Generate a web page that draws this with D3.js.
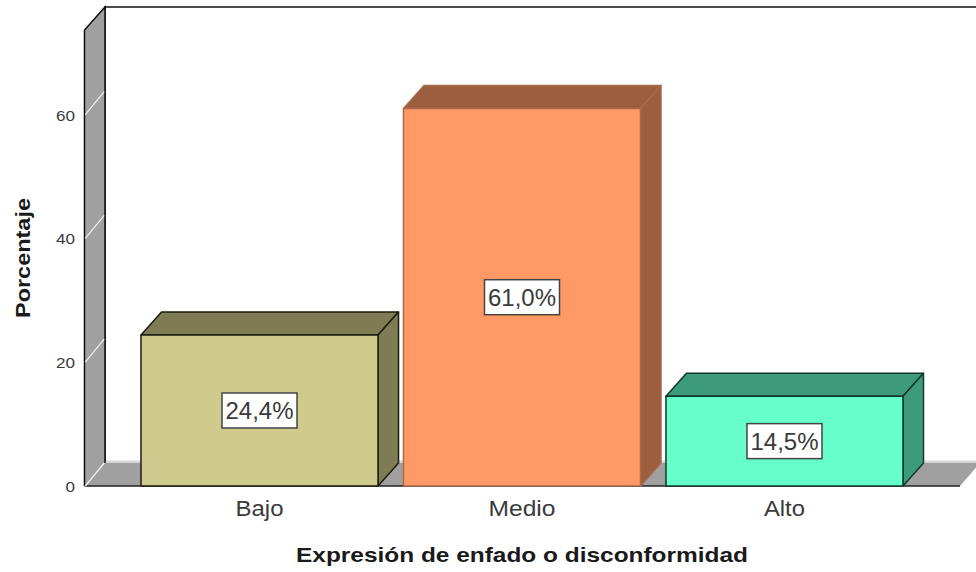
<!DOCTYPE html>
<html><head><meta charset="utf-8">
<script src="https://cdn.jsdelivr.net/npm/d3@7"></script>
<style>html,body{margin:0;padding:0;background:#fff}svg{display:block}text{font-family:"Liberation Sans",Arial,sans-serif;fill:#3a3a3a}text.b{fill:#1a1a1a}</style>
</head><body><svg id="c" width="976" height="572"></svg>
<script>
const categories=["Bajo","Medio","Alto"];
const values=[24.4,61.0,14.5];
const valueLabels=["24,4%","61,0%","14,5%"];
const yTicks=[0,20,40,60];
const faceColors=["#cfcb8d","#ff9966","#66ffcc"];
const sideColors=["#7f7c55","#9b5f3f","#3e9b7c"];
const edgeColors=["#1c1c10","#a8694a","#10382c"];
const xTitle="Expresión de enfado o disconformidad";
const yTitle="Porcentaje";

const dx=20.5,dy=-23,baseY=486,wallX=84.5,yMax=73.67;
const y=d3.scaleLinear().domain([0,yMax]).range([baseY,30]);
const x=d3.scaleBand().domain(categories).range([128.25,915.75]).paddingInner(.097).paddingOuter(.0486);
const svg=d3.select("#c");
const defs=svg.append("defs");
defs.append("filter").attr("id","soft").attr("filterUnits","userSpaceOnUse").attr("x",0).attr("y",0).attr("width",976).attr("height",572)
  .append("feGaussianBlur").attr("stdDeviation",.35);
const g=svg.append("g").attr("filter","url(#soft)");
const poly=(pts,fill,stroke,sw=1.5)=>g.append("polygon").attr("points",pts.map(p=>p.join(",")).join(" "))
  .attr("fill",fill).attr("stroke",stroke).attr("stroke-width",sw).attr("stroke-linejoin","round");
// back plane border
g.append("path").attr("d",`M${wallX+dx},${y(0)+dy}V${y(yMax)+dy}H976`).attr("fill","none").attr("stroke","#111").attr("stroke-width",1.5);
// floor
g.append("rect").attr("x",wallX+dx).attr("y",y(0)+dy-2.5).attr("width",976-wallX-dx).attr("height",3).attr("fill","#d6d6d6");
g.append("polygon").attr("points",[[wallX,baseY],[wallX+dx,baseY+dy],[980,baseY+dy],[960,baseY]].map(p=>p.join(",")).join(" ")).attr("fill","#a0a0a0");
g.append("line").attr("x1",wallX).attr("x2",960).attr("y1",baseY).attr("y2",baseY).attr("stroke","#222").attr("stroke-width",1.5);
// wall
poly([[wallX,y(0)],[wallX,y(yMax)],[wallX+dx,y(yMax)+dy],[wallX+dx,y(0)+dy]],"#a0a0a0","none",0);
g.append("path").attr("d",`M${wallX},${y(0)}V${y(yMax)}L${wallX+dx},${y(yMax)+dy}V${y(0)+dy}`).attr("fill","none").attr("stroke","#111").attr("stroke-width",1.5);
g.selectAll("line.grid").data(yTicks).join("line").attr("class","grid")
  .attr("x1",wallX+.8).attr("x2",wallX+dx-.8).attr("y1",d=>y(d)).attr("y2",d=>y(d)+dy)
  .attr("stroke","#f0f0f0").attr("stroke-width",1.2);
// bars
categories.forEach((c,i)=>{
  const x0=x(c),x1=x0+x.bandwidth(),yt=y(values[i]),yb=y(0),col=edgeColors[i];
  poly([[x0,yt],[x0+dx,yt+dy],[x1+dx,yt+dy],[x1,yt]],sideColors[i],col);
  poly([[x1,yt],[x1+dx,yt+dy],[x1+dx,yb+dy],[x1,yb]],sideColors[i],col);
  poly([[x0,yt],[x1,yt],[x1,yb],[x0,yb]],faceColors[i],col);
});
// value labels
const lab=svg.selectAll("g.lab").data(categories).join("g").attr("class","lab")
  .attr("transform",(c,i)=>`translate(${x(c)+x.bandwidth()/2},${(y(values[i])+y(0))/2})`);
lab.append("rect").attr("x",-37.5).attr("y",-17.5).attr("width",75).attr("height",35)
  .attr("fill","#fff").attr("stroke","#444").attr("stroke-width",1.5);
lab.append("text").attr("text-anchor","middle").attr("y",8.5).attr("font-size",24)
  .attr("textLength",68).attr("lengthAdjust","spacingAndGlyphs").text((c,i)=>valueLabels[i]);
// y axis tick labels
const ax=svg.append("g").attr("transform",`translate(${wallX},0)`)
  .call(d3.axisLeft(y).tickValues(yTicks).tickSize(0).tickPadding(9.5));
ax.select(".domain").remove();
ax.selectAll("text").attr("font-size",15).attr("font-family",null).attr("dy",null).attr("y",5.5)
  .attr("textLength",d=>d===0?9.5:19).attr("lengthAdjust","spacingAndGlyphs");
// category labels
svg.selectAll("text.cat").data(categories).join("text").attr("class","cat")
  .attr("x",c=>x(c)+x.bandwidth()/2).attr("y",516).attr("text-anchor","middle").attr("font-size",22)
  .attr("textLength",(c,i)=>[48,67,41][i]).attr("lengthAdjust","spacingAndGlyphs").text(c=>c);
// titles
svg.append("text").attr("class","b").attr("x",522).attr("y",562).attr("text-anchor","middle").attr("font-size",21).attr("font-weight","bold")
  .attr("textLength",452).attr("lengthAdjust","spacingAndGlyphs").text(xTitle);
svg.append("text").attr("class","b").attr("transform","translate(30,258) rotate(-90)").attr("text-anchor","middle").attr("font-size",21).attr("font-weight","bold")
  .attr("textLength",120).attr("lengthAdjust","spacingAndGlyphs").text(yTitle);
</script></body></html>
